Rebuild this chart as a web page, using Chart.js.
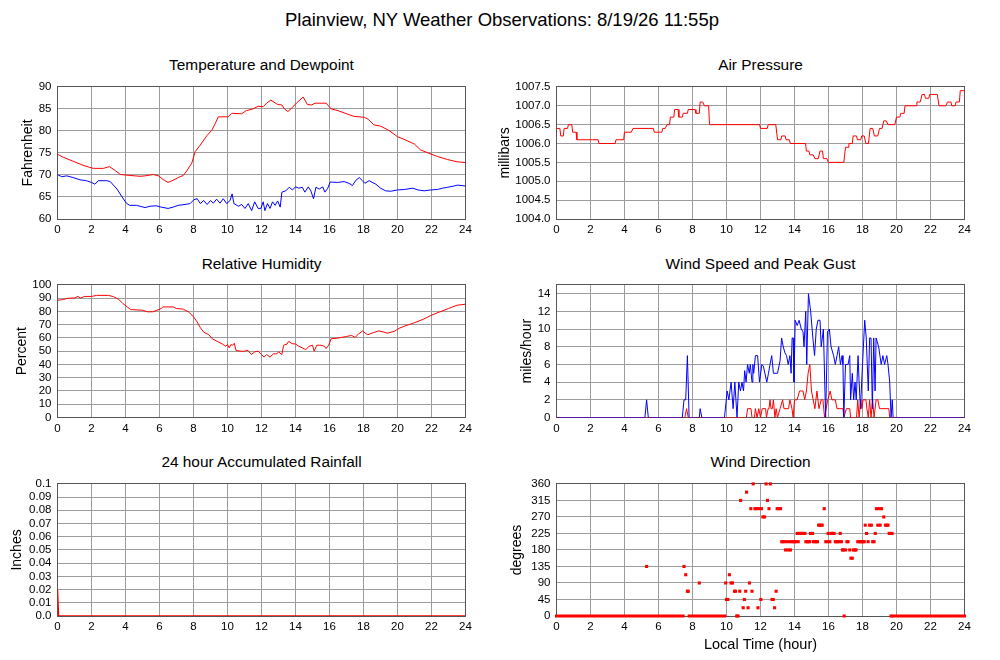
<!DOCTYPE html>
<html><head><meta charset="utf-8">
<script src="https://cdn.jsdelivr.net/npm/chart.js@4.4.1/dist/chart.umd.min.js"></script>
<style>
html,body{margin:0;padding:0;background:#fff;}
body{width:1000px;height:660px;position:relative;overflow:hidden;font-family:'Liberation Sans',Arial,Helvetica,sans-serif;}
.t{position:absolute;white-space:nowrap;transform:translate(-50%,-50%);line-height:1;color:#000;}
canvas{position:absolute;}
</style></head><body>
<div class="t" style="left:502px;top:20px;font-size:18.5px">Plainview, NY Weather Observations: 8/19/26 11:55p</div>
<div class="t" style="left:261.5px;top:65px;font-size:15.4px">Temperature and Dewpoint</div>
<div class="t" style="left:760.5px;top:65px;font-size:15.4px">Air Pressure</div>
<div class="t" style="left:261.5px;top:264px;font-size:15.4px">Relative Humidity</div>
<div class="t" style="left:760.5px;top:263.5px;font-size:15.4px">Wind Speed and Peak Gust</div>
<div class="t" style="left:261.5px;top:462px;font-size:15.4px">24 hour Accumulated Rainfall</div>
<div class="t" style="left:760.5px;top:462px;font-size:15.4px">Wind Direction</div>
<canvas id="c1" width="478" height="167" style="left:0px;top:74px;width:478px;height:167px"></canvas>
<canvas id="c2" width="487" height="167" style="left:490px;top:74px;width:487px;height:167px"></canvas>
<canvas id="c3" width="478" height="168" style="left:0px;top:272px;width:478px;height:168px"></canvas>
<canvas id="c4" width="487" height="168" style="left:490px;top:272px;width:487px;height:168px"></canvas>
<canvas id="c5" width="478" height="167" style="left:0px;top:471px;width:478px;height:167px"></canvas>
<canvas id="c6" width="487" height="189" style="left:490px;top:471px;width:487px;height:189px"></canvas>
<script>
// ---------------- data (hour of day, value) ----------------
const hourTicks = [0,2,4,6,8,10,12,14,16,18,20,22,24];
const tempTicks = [60,65,70,75,80,85,90];
const pressureTicks = [1004.0,1004.5,1005.0,1005.5,1006.0,1006.5,1007.0,1007.5];
const pressureTickLabels = ['1004.0','1004.5','1005.0','1005.5','1006.0','1006.5','1007.0','1007.5'];
const humidityTicks = [0,10,20,30,40,50,60,70,80,90,100];
const windTicks = [0,2,4,6,8,10,12,14];
const rainTicks = [0,0.01,0.02,0.03,0.04,0.05,0.06,0.07,0.08,0.09,0.1];
const rainTickLabels = ['0.0','0.01','0.02','0.03','0.04','0.05','0.06','0.07','0.08','0.09','0.1'];
const directionTicks = [0,45,90,135,180,225,270,315,360];

const temperature = [[0,74.7],[0.35,74.0],[0.93,73.1],[1.5,72.2],[2.1,71.5],[2.7,71.5],[3.05,71.9],[3.4,71.0],[3.7,70.1],[4.25,69.9],[4.85,69.7],[5.15,69.8],[5.65,70.1],[5.95,69.8],[6.2,69.0],[6.5,68.3],[6.8,68.8],[7.1,69.4],[7.4,69.9],[7.6,70.9],[7.9,72.7],[8.1,75.3],[8.4,76.8],[8.8,79.0],[9.07,80.1],[9.27,81.6],[9.46,83.2],[10.05,83.2],[10.25,84.0],[10.83,83.9],[11.1,84.6],[11.5,85.0],[11.8,85.6],[12.1,85.5],[12.3,86.3],[12.55,87.0],[12.95,86.0],[13.2,85.9],[13.35,85.0],[13.55,84.4],[13.75,85.1],[14.05,86.3],[14.45,87.7],[14.7,86.0],[14.95,85.9],[15.15,86.3],[15.8,86.3],[16.1,85.0],[16.5,84.6],[17.0,83.9],[17.45,83.3],[18.05,83.1],[18.3,82.6],[18.6,81.4],[19.0,81.1],[19.5,80.1],[20.0,78.7],[20.5,77.9],[21.0,77.0],[21.35,75.7],[21.8,75.0],[22.35,74.2],[22.95,73.5],[23.5,73.0],[24,72.8]];

const dewpoint = [[0,70.1],[0.25,69.6],[0.54,69.8],[0.93,69.4],[1.32,68.9],[1.7,68.7],[2.0,68.3],[2.2,67.9],[2.4,68.7],[2.9,68.7],[3.1,68.5],[3.5,66.8],[3.8,65.0],[4.05,63.6],[4.25,63.1],[4.65,63.1],[5.15,62.6],[5.45,62.9],[5.8,63.0],[6.1,62.7],[6.5,62.4],[6.8,62.7],[7.1,63.1],[7.5,63.3],[7.8,63.5],[8.03,64.4],[8.22,64.6],[8.4,63.5],[8.6,64.2],[8.8,63.3],[9.0,64.2],[9.17,63.6],[9.36,64.5],[9.56,63.6],[9.75,64.6],[9.95,63.5],[10.15,64.2],[10.27,65.7],[10.38,63.5],[10.64,62.9],[10.83,63.3],[11.03,62.4],[11.22,63.5],[11.42,61.9],[11.6,63.9],[11.8,62.4],[11.96,62.4],[12.1,63.9],[12.2,61.9],[12.35,63.5],[12.5,62.4],[12.65,63.9],[12.8,63.1],[12.95,64.1],[13.1,62.7],[13.2,66.1],[13.43,66.4],[13.63,67.2],[13.82,66.6],[14.0,67.3],[14.2,67.0],[14.4,67.2],[14.55,66.1],[14.75,67.3],[14.9,66.4],[15.06,64.6],[15.2,67.2],[15.4,66.8],[15.6,67.3],[15.73,66.1],[15.9,67.0],[16.04,68.4],[16.47,68.3],[16.86,68.5],[17.15,68.1],[17.35,67.6],[17.55,68.8],[17.75,69.4],[17.94,68.7],[18.08,68.1],[18.33,68.7],[18.73,67.9],[19.0,67.0],[19.3,66.4],[19.6,66.3],[20.0,66.6],[20.4,66.7],[20.9,67.0],[21.2,66.6],[21.57,66.4],[21.96,66.6],[22.35,66.7],[22.65,67.0],[22.95,67.2],[23.33,67.5],[23.53,67.7],[24,67.5]];

const pressure = [[0,1006.4],[0.2,1006.4],[0.25,1006.2],[0.4,1006.2],[0.45,1006.4],[0.65,1006.4],[0.7,1006.5],[0.9,1006.5],[0.95,1006.3],[1.15,1006.3],[1.2,1006.1],[2.45,1006.1],[2.5,1006.0],[3.45,1006.0],[3.5,1006.1],[3.95,1006.1],[4.0,1006.3],[4.4,1006.3],[4.5,1006.4],[5.7,1006.4],[5.75,1006.3],[6.2,1006.3],[6.25,1006.4],[6.4,1006.4],[6.5,1006.5],[6.65,1006.5],[6.7,1006.7],[6.9,1006.7],[6.95,1006.9],[7.15,1006.9],[7.2,1006.7],[7.4,1006.7],[7.45,1006.8],[7.7,1006.8],[7.75,1006.9],[8.15,1006.9],[8.2,1006.8],[8.4,1006.8],[8.45,1007.1],[8.6,1007.1],[8.7,1007.0],[8.95,1007.0],[9.0,1006.5],[11.95,1006.5],[12.0,1006.4],[12.4,1006.4],[12.45,1006.5],[12.9,1006.5],[13.0,1006.1],[13.2,1006.1],[13.25,1006.2],[13.45,1006.2],[13.5,1006.1],[13.7,1006.1],[13.75,1006.0],[14.65,1006.0],[14.7,1005.8],[14.85,1005.8],[14.9,1005.7],[15.1,1005.7],[15.2,1005.6],[15.4,1005.6],[15.5,1005.8],[15.65,1005.8],[15.7,1005.6],[15.9,1005.6],[16.0,1005.5],[16.9,1005.5],[17.0,1005.9],[17.15,1005.9],[17.2,1006.0],[17.4,1006.0],[17.45,1006.2],[17.65,1006.2],[17.7,1006.1],[17.9,1006.1],[17.95,1006.2],[18.1,1006.2],[18.2,1006.0],[18.35,1006.0],[18.45,1006.4],[18.6,1006.4],[18.7,1006.2],[18.9,1006.2],[19.0,1006.4],[19.15,1006.4],[19.25,1006.6],[19.4,1006.6],[19.5,1006.5],[19.9,1006.5],[20.0,1006.7],[20.2,1006.7],[20.25,1006.8],[20.45,1006.8],[20.5,1007.0],[21.15,1007.0],[21.2,1007.1],[21.4,1007.1],[21.5,1007.3],[21.65,1007.3],[21.7,1007.2],[21.9,1007.2],[21.95,1007.3],[22.4,1007.3],[22.5,1007.0],[22.9,1007.0],[23.0,1007.1],[23.2,1007.1],[23.25,1007.0],[23.45,1007.0],[23.5,1007.1],[23.7,1007.1],[23.75,1007.4],[24,1007.4]];

const humidity = [[0,88.4],[0.3,88.9],[0.6,89.9],[1.0,90.1],[1.2,91.3],[1.35,90.1],[1.6,91.3],[2.0,91.3],[2.3,92.1],[3.0,92.1],[3.3,91.1],[3.6,89.1],[3.85,85.9],[4.1,83.4],[4.3,81.4],[5.0,80.9],[5.3,79.7],[5.6,79.7],[5.85,80.9],[6.1,82.2],[6.2,83.4],[6.8,83.4],[7.0,82.2],[7.4,81.7],[7.7,79.7],[8.0,76.0],[8.2,72.3],[8.4,67.8],[8.6,64.4],[8.9,62.4],[9.1,59.4],[9.4,57.4],[9.7,55.4],[9.9,53.7],[10.0,55.0],[10.1,52.5],[10.2,55.0],[10.3,54.5],[10.4,56.0],[10.5,50.5],[10.8,50.0],[11.0,50.0],[11.2,50.7],[11.4,47.5],[11.6,49.5],[11.8,50.0],[12.0,47.5],[12.15,45.5],[12.3,47.5],[12.5,45.5],[12.7,48.0],[12.9,48.0],[13.0,49.5],[13.2,47.5],[13.3,54.5],[13.5,55.4],[13.6,57.4],[13.8,55.7],[14.0,55.4],[14.2,53.7],[14.4,52.5],[14.6,51.2],[14.8,53.7],[15.0,54.5],[15.1,50.0],[15.25,54.5],[15.5,54.5],[15.7,53.7],[15.8,52.0],[15.95,54.5],[16.1,59.4],[16.5,59.9],[17.0,61.1],[17.3,61.9],[17.5,60.4],[17.7,62.9],[17.95,65.3],[18.1,63.6],[18.25,62.4],[18.6,64.1],[18.9,65.3],[19.2,64.4],[19.4,63.6],[19.8,64.9],[20.1,67.3],[20.5,69.3],[21.0,71.5],[21.5,74.0],[22.0,77.2],[22.5,79.7],[23.0,82.2],[23.5,84.7],[24.0,85.4]];

const rainfall = [[0,0.02],[0.06,0],[24,0]];

const windGust = [[0,0],[5.2,0],[5.3,2],[5.4,0],[7.4,0],[7.5,2],[7.6,2],[7.7,7],[7.8,0],[8.4,0],[8.45,1],[8.55,0],[9.88,0],[10.04,3],[10.14,2],[10.27,4],[10.39,1],[10.49,4],[10.62,0],[10.72,4],[10.82,3],[10.91,4],[11.0,3],[11.07,5.3],[11.15,4],[11.24,6],[11.34,5],[11.4,6],[11.5,4],[11.55,6],[11.6,5],[11.7,7],[11.83,7],[11.94,4],[12.08,6],[12.17,5.8],[12.37,4],[12.47,5],[12.56,6],[12.66,7],[12.76,5],[13.0,5],[13.15,6.4],[13.24,9],[13.34,8],[13.44,7.3],[13.53,7],[13.63,6],[13.73,7],[13.8,5],[13.86,9],[13.92,9],[13.97,4],[14.04,11],[14.16,10.4],[14.27,11],[14.4,10],[14.5,9.7],[14.56,8],[14.66,12],[14.72,6],[14.82,14],[14.95,12],[15.09,8.8],[15.18,7],[15.28,10],[15.38,11],[15.5,11],[15.57,8],[15.7,10],[15.83,0],[15.94,9.7],[16.05,10],[16.15,8],[16.3,7],[16.4,6],[16.5,7],[16.6,8],[16.7,6],[16.8,7],[16.85,6],[16.9,0],[17.0,6],[17.15,6],[17.25,7],[17.3,2],[17.4,5],[17.48,2],[17.56,4],[17.63,2],[17.74,7],[17.8,4],[17.88,1],[18.0,6],[18.13,11],[18.22,9],[18.34,3],[18.42,9],[18.5,9],[18.58,1],[18.66,9],[18.74,3],[18.8,9],[18.95,8],[19.1,6],[19.2,7],[19.3,6],[19.43,7],[19.5,6],[19.6,4],[19.68,0],[19.75,2],[19.8,0],[24,0]];

const windSpeed = [[0,0],[7.55,0],[7.65,1],[7.75,0],[11.17,0],[11.24,1],[11.44,1],[11.5,0],[11.65,0],[11.7,1],[11.8,0],[11.9,1],[12.0,0],[12.1,1],[12.3,1],[12.35,0],[12.45,1],[12.5,1],[12.56,2],[12.62,1],[12.7,1],[12.76,2],[12.85,0],[12.92,1],[13.0,0],[13.15,1],[13.3,2],[13.38,1],[13.65,1],[13.73,2],[13.85,1],[13.92,0],[14.0,2],[14.15,2],[14.3,3],[14.5,3],[14.6,2],[14.7,3],[14.8,5],[14.9,6],[15.0,3],[15.1,2],[15.2,1],[15.32,3],[15.44,1],[15.57,2],[15.67,2],[15.77,0],[15.86,1],[15.96,2],[16.1,3],[16.2,2],[16.4,2],[16.5,1],[16.85,1],[16.9,0],[17.05,1],[17.25,1],[17.3,0],[17.65,0],[17.72,2],[17.8,0],[17.9,2],[17.96,1],[18.03,2],[18.2,2],[18.26,1],[18.34,0],[18.42,2],[18.5,0],[18.6,2],[18.68,0],[18.8,2],[18.9,2],[19.0,1],[19.55,1],[19.6,0],[24,0]];

// calm periods (direction reported as 0) : [start hour, end hour]
const calmPeriods = [[0,5.25],[5.38,7.45],[7.8,8.35],[8.47,9.9],[19.8,24]];

const windDirection = [[5.3,135],[7.5,135],[7.6,112.5],[7.7,67.5],[7.75,67.5],[8.4,90],
[9.95,90],[10.0,45],[10.08,45],[10.17,112.5],[10.27,90],[10.35,90],[10.47,67.5],[10.53,67.5],[10.6,0],[10.68,0],[10.78,67.5],[10.83,315],[10.98,22.5],[11.05,45],[11.13,67.5],[11.18,337.5],[11.27,22.5],[11.35,90],[11.43,292.5],[11.5,67.5],[11.57,360],[11.67,292.5],[11.76,292.5],[11.85,22.5],[11.92,292.5],[12.02,45],[12.06,292.5],[12.14,270],[12.24,270],[12.33,360],[12.41,315],[12.5,292.5],[12.58,360],[12.68,45],[12.75,45],[12.83,22.5],[12.92,67.5],[12.98,292.5],[13.08,292.5],[13.18,292.5],
[13.25,202.5],[13.32,202.5],[13.4,202.5],[13.47,180],[13.55,202.5],[13.63,180],[13.7,202.5],[13.76,180],[13.84,202.5],[13.92,202.5],[14.0,202.5],[14.08,202.5],
[14.16,225],[14.22,202.5],[14.27,225],[14.37,225],[14.45,225],[14.51,225],[14.61,225],[14.67,202.5],[14.75,202.5],[14.82,202.5],[14.9,202.5],[14.94,225],[15.06,225],[15.12,202.5],[15.2,202.5],[15.28,202.5],[15.35,202.5],[15.42,247.5],[15.49,247.5],[15.56,247.5],[15.63,247.5],[15.75,292.5],[15.84,202.5],[15.92,202.5],[15.98,225],[16.08,202.5],[16.16,225],[16.24,225],[16.33,225],[16.4,202.5],[16.47,202.5],[16.55,202.5],[16.62,202.5],[16.69,225],[16.76,202.5],[16.82,180],[16.88,180],[16.92,0],[17.0,180],[17.08,202.5],[17.15,202.5],[17.25,180],[17.32,157.5],[17.4,157.5],[17.47,180],[17.55,180],[17.62,180],[17.72,202.5],[17.8,202.5],[17.88,202.5],[17.96,202.5],[18.04,202.5],[18.1,202.5],[18.16,247.5],[18.24,225],[18.33,202.5],[18.42,247.5],[18.52,247.5],[18.6,202.5],[18.68,202.5],[18.75,225],[18.82,292.5],[18.9,247.5],[18.98,292.5],[19.04,247.5],[19.12,292.5],[19.25,270],[19.35,247.5],[19.43,247.5],[19.5,247.5],[19.57,225],[19.63,225],[19.68,0],[19.74,225]];

// ---------------- rendering ----------------
Chart.defaults.font.family = "'Liberation Sans', Arial, Helvetica, sans-serif";
Chart.defaults.color = '#000';

const RED = '#ff0000', BLUE = '#0000ff', GRID = '#9c9c9c';
const xy = arr => arr.map(p => ({x: p[0], y: p[1]}));

const framePlugin = {
  id: 'frame',
  beforeDatasetsDraw(chart) {
    const a = chart.chartArea, ctx = chart.ctx;
    const al = v => Math.round(v - 0.5) + 0.5;
    ctx.save();
    ctx.strokeStyle = '#555';
    ctx.lineWidth = 1;
    ctx.strokeRect(al(a.left), al(a.top), al(a.right) - al(a.left), al(a.bottom) - al(a.top));
    ctx.restore();
  }
};

function lineSet(arr, color) {
  return { data: xy(arr), borderColor: color, backgroundColor: color, borderWidth: 1, pointRadius: 0, tension: 0, fill: false };
}

function panel(id, o) {
  const xScale = {
    type: 'linear', min: 0, max: 24,
    afterBuildTicks: s => { s.ticks = hourTicks.map(v => ({value: v})); },
    afterFit: s => { s.height = o.xH; },
    grid: { color: GRID, lineWidth: 1, drawTicks: false },
    border: { display: false },
    ticks: { font: {size: 11.5}, padding: 4, maxRotation: 0, autoSkip: false, callback: (v, i) => String(hourTicks[i]) },
    title: o.xTitle ? { display: true, text: o.xTitle, font: {size: 14.5}, padding: {top: 0, bottom: 6.3} } : { display: false }
  };
  const yScale = {
    type: 'linear', min: o.yMin, max: o.yMax,
    afterBuildTicks: s => { s.ticks = o.yTicks.map(v => ({value: v})); },
    afterFit: s => { s.width = o.yW; },
    grid: { color: GRID, lineWidth: 1, drawTicks: false },
    border: { display: false },
    ticks: { font: {size: 11.5}, padding: 6, autoSkip: false, callback: (v, i) => (o.yLabels ? o.yLabels[i] : String(o.yTicks[i])) },
    title: { display: true, text: o.yTitle, font: {size: 14}, padding: {top: o.yTitlePad, bottom: 0} }
  };
  return new Chart(document.getElementById(id), {
    type: 'line',
    data: { datasets: o.datasets },
    options: {
      responsive: false, animation: false, events: [],
      layout: { padding: { left: 0, top: o.padTop, right: 12.5, bottom: 0 } },
      plugins: { legend: {display: false}, tooltip: {enabled: false}, title: {display: false} },
      scales: { x: xScale, y: yScale }
    },
    plugins: [framePlugin]
  });
}

panel('c1', { yMin: 60, yMax: 90, yTicks: tempTicks, yTitle: 'Fahrenheit', yTitlePad: 20, yW: 57.5, xH: 22, padTop: 10,
  datasets: [lineSet(temperature, RED), lineSet(dewpoint, BLUE)] });

panel('c2', { yMin: 1004, yMax: 1007.5, yTicks: pressureTicks, yLabels: pressureTickLabels, yTitle: 'millibars', yTitlePad: 6.6, yW: 66.5, xH: 22, padTop: 10,
  datasets: [lineSet(pressure, RED)] });

panel('c3', { yMin: 0, yMax: 100, yTicks: humidityTicks, yTitle: 'Percent', yTitlePad: 13.3, yW: 57.5, xH: 22.5, padTop: 10.5,
  datasets: [lineSet(humidity, RED)] });

panel('c4', { yMin: 0, yMax: 15, yTicks: windTicks, yTitle: 'miles/hour', yTitlePad: 28.9, yW: 66.5, xH: 22.5, padTop: 10.5,
  datasets: [lineSet(windGust, BLUE), lineSet(windSpeed, RED)] });

const rainSet = lineSet(rainfall, RED);
rainSet.borderWidth = 1.5;
panel('c5', { yMin: 0, yMax: 0.1, yTicks: rainTicks, yLabels: rainTickLabels, yTitle: 'Inches', yTitlePad: 9, yW: 57.5, xH: 22, padTop: 10,
  datasets: [rainSet] });

const calmData = [];
calmPeriods.forEach(p => { calmData.push({x: p[0], y: 0}, {x: p[1], y: 0}, {x: p[1] + 0.001, y: null}); });
panel('c6', { yMin: 0, yMax: 360, yTicks: directionTicks, yTitle: 'degrees', yTitlePad: 18.3, yW: 66.5, xH: 44, padTop: 10, xTitle: 'Local Time (hour)',
  datasets: [
    { data: calmData, borderColor: RED, borderWidth: 3, pointRadius: 0, spanGaps: false, clip: false, borderCapStyle: 'square' },
    { data: xy(windDirection), showLine: false, pointStyle: 'rect', pointRadius: 2.2, pointBorderWidth: 0, pointBackgroundColor: RED, pointBorderColor: RED, clip: false }
  ] });
</script>
</body></html>
